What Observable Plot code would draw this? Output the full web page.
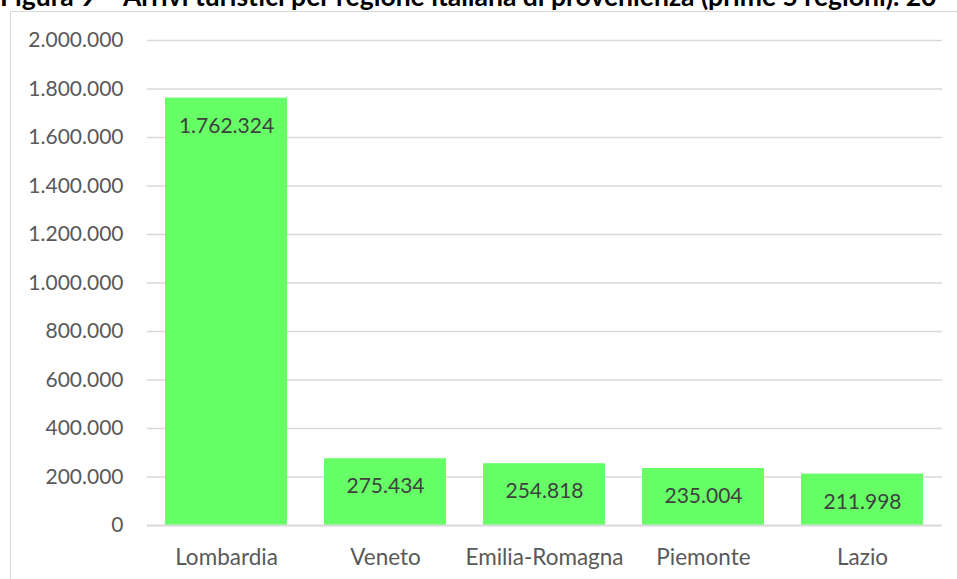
<!DOCTYPE html>
<html>
<head>
<meta charset="utf-8">
<script src="https://cdn.jsdelivr.net/npm/d3@7"></script>
<script src="https://cdn.jsdelivr.net/npm/@observablehq/plot@0.6"></script>
<style>
  html, body { margin: 0; padding: 0; background: #fff; overflow: hidden; }
  #wrap { position: relative; width: 957px; height: 579px; overflow: hidden; }
  #title { position: absolute; left: 0; top: -20px; white-space: nowrap; font-family: Lato, sans-serif; font-weight: bold; font-size: 26.5px; color: #000; }
  #frame { position: absolute; left: 10px; top: 11px; width: 1000px; height: 700px; border-left: 1.5px solid #d9d9d9; border-top: 1.5px solid #d9d9d9; }
  #chart { position: absolute; left: 0; top: 0; }
</style>
</head>
<body>
<div id="wrap">
  <div id="title">Figura 9 – Arrivi turistici per regione italiana di provenienza (prime 5 regioni). 20</div>
  <div id="frame"></div>
  <div id="chart"></div>
</div>
<script>
const regions = ["Lombardia", "Veneto", "Emilia-Romagna", "Piemonte", "Lazio"];
const arrivals = [1762324, 275434, 254818, 235004, 211998];
const yTicks = [0, 200000, 400000, 600000, 800000, 1000000, 1200000, 1400000, 1600000, 1800000, 2000000];

const it = d3.formatLocale({decimal: ",", thousands: ".", grouping: [3], currency: ["", "€"]});
const fmt = it.format(",d");
const data = regions.map((r, i) => ({region: r, value: arrivals[i]}));

const chart = Plot.plot({
  width: 957,
  height: 579,
  marginLeft: 147,
  marginRight: 15,
  marginTop: 40,
  marginBottom: 54,
  style: {fontFamily: "Lato, sans-serif", fontSize: "21px", background: "transparent"},
  x: {domain: regions, paddingInner: 0.23, paddingOuter: 0.115, label: null},
  y: {domain: [0, 2000000], label: null},
  marks: [
    Plot.ruleY(yTicks.filter(d => d > 0), {stroke: "#d9d9d9", strokeWidth: 1.5}),
    Plot.barY(data, {x: "region", y: "value", fill: "#66ff66"}),
    Plot.ruleY([0], {stroke: "#d9d9d9", strokeWidth: 2}),
    Plot.text(data, {x: "region", y: "value", text: d => fmt(d.value), dy: 28, fill: "#404040", fontSize: 21}),
    Plot.axisY({ticks: yTicks, tickFormat: fmt, tickSize: 0, tickPadding: 24, color: "#595959", fontSize: 21, label: null}),
    Plot.axisX({tickSize: 0, tickPadding: 24, color: "#595959", fontSize: 22.5, label: null})
  ]
});
document.getElementById("chart").appendChild(chart);
</script>
</body>
</html>
